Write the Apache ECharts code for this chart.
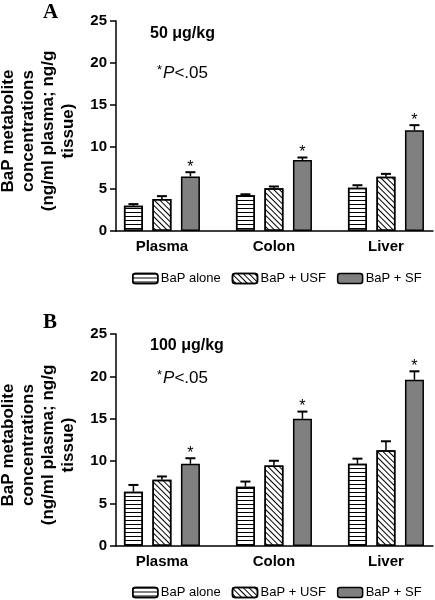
<!DOCTYPE html>
<html>
<head>
<meta charset="utf-8">
<script src="https://cdn.jsdelivr.net/npm/echarts@6/dist/echarts.min.js"></script>
<style>
html,body{margin:0;padding:0;background:#fff;}
#chart{width:435px;height:600px;}
</style>
</head>
<body>
<div id="chart"></div>
<script>
// ---- data ----
const categories = ['Plasma', 'Colon', 'Liver'];
const seriesNames = ['BaP alone', 'BaP + USF', 'BaP + SF'];
const yTicks = [0, 5, 10, 15, 20, 25];

// Panel A: 50 µg/kg
const aAlone = [3.0, 4.25, 5.15];
const aAloneErr = [0.2, 0.12, 0.3];
const aUSF = [3.8, 5.1, 6.45];
const aUSFErr = [0.35, 0.2, 0.35];
const aSF = [6.5, 8.45, 12.0];
const aSFErr = [0.5, 0.3, 0.6];

// Panel B: 100 µg/kg
const bAlone = [6.4, 7.0, 9.7];
const bAloneErr = [0.8, 0.6, 0.6];
const bUSF = [7.8, 9.5, 11.3];
const bUSFErr = [0.4, 0.55, 1.05];
const bSF = [9.7, 15.0, 19.6];
const bSFErr = [0.65, 0.85, 1.0];

// significance flags (star) per series
const significant = [false, false, true];

// ---- styling ----
const FONT = '"Liberation Sans", Arial, sans-serif';
const BAR_W = 19;
const BAR_GAP = 0.5;
const fills = ['#ffffff', '#ffffff', '#808080'];
const decals = [
  {color: '#000', symbol: 'rect', symbolSize: 1, dashArrayX: [1, 0], dashArrayY: [1, 3], rotation: 0},
  {color: '#000', symbol: 'rect', symbolSize: 1, dashArrayX: [1, 0], dashArrayY: [1, 3], rotation: Math.PI / 4},
  'none'
];

const chart = echarts.init(document.getElementById('chart'), null, {renderer: 'canvas'});

function barSeries(name, values, gi, si) {
  return {
    type: 'bar', name: name, xAxisIndex: gi, yAxisIndex: gi,
    barWidth: BAR_W, barGap: (BAR_GAP * 100) + '%',
    data: values.map((v, i) => [i + 1, v]),
    itemStyle: {
      color: fills[si], borderColor: '#000', borderWidth: 1.5,
      decal: decals[si] === 'none' ? null : decals[si]
    },
    z: 2
  };
}

function errSeries(gi, valuesList, errList) {
  const data = [];
  valuesList.forEach((vals, si) => {
    vals.forEach((v, i) => data.push([i + 1, v, errList[si][i], si, significant[si] ? 1 : 0]));
  });
  return {
    type: 'custom', name: 'err' + gi, xAxisIndex: gi, yAxisIndex: gi, z: 5,
    encode: {x: 0, y: 1},
    data: data,
    renderItem: function (params, api) {
      const x = api.value(0), v = api.value(1), e = api.value(2), s = api.value(3), sig = api.value(4);
      const base = api.coord([x, v]);
      const top = api.coord([x, v + e]);
      const cx = base[0] + (s - 1) * BAR_W * (1 + BAR_GAP);
      const children = [
        {type: 'line', shape: {x1: cx, y1: base[1], x2: cx, y2: top[1]}, style: {stroke: '#000', lineWidth: 1.5}},
        {type: 'line', shape: {x1: cx - 5, y1: top[1], x2: cx + 5, y2: top[1]}, style: {stroke: '#000', lineWidth: 2}}
      ];
      if (sig) {
        children.push({type: 'text', style: {text: '*', x: cx, y: top[1] - 5, align: 'center', verticalAlign: 'middle', font: '16px ' + FONT, fill: '#000'}});
      }
      return {type: 'group', children: children};
    }
  };
}

function xAxis(gi) {
  return {
    type: 'value', gridIndex: gi, min: 0.59, max: 3.42,
    axisLine: {show: true, lineStyle: {color: '#000', width: 1.5}},
    axisTick: {show: false},
    splitLine: {show: false},
    axisLabel: {
      customValues: [1, 2, 3],
      formatter: v => categories[Math.round(v) - 1] || '',
      color: '#000', fontFamily: FONT, fontWeight: 'bold', fontSize: 15, margin: 8
    }
  };
}

function yAxis(gi) {
  return {
    type: 'value', gridIndex: gi, min: yTicks[0], max: yTicks[yTicks.length - 1], interval: 5,
    axisLine: {show: true, lineStyle: {color: '#000', width: 1.5}},
    axisTick: {show: true, length: 6, lineStyle: {color: '#000', width: 1.5}},
    splitLine: {show: false},
    axisLabel: {color: '#000', fontFamily: FONT, fontWeight: 'bold', fontSize: 15, margin: 9},
    name: 'BaP metabolite\nconcentrations\n(ng/ml plasma; ng/g\ntissue)',
    nameLocation: 'middle', nameRotate: 90, nameGap: 38,
    nameTextStyle: {color: '#000', fontFamily: FONT, fontWeight: 'bold', fontSize: 17, lineHeight: 20, padding: [0, 10, 0, 0]}
  };
}

function legend(top) {
  return {
    left: 127, top: top, itemWidth: 25, itemHeight: 10, itemGap: 11,
    data: seriesNames, selectedMode: false,
    textStyle: {color: '#000', fontFamily: FONT, fontSize: 13, padding: [0, 0, 0, -2]},
    itemStyle: {borderColor: '#000', borderWidth: 1.5}
  };
}

function panelTexts(letterY, doseText, doseY, pY) {
  return [
    {type: 'text', left: 43, top: letterY, style: {text: letterY < 100 ? 'A' : 'B', font: 'bold 21px "Liberation Serif", "Times New Roman", serif', fill: '#000'}},
    {type: 'text', left: 150, top: doseY, style: {text: doseText, font: 'bold 16px ' + FONT, fill: '#000'}},
    {type: 'text', left: 157, top: pY, style: {
      text: '{s|*}{i|P}{n|<.05}', fill: '#000',
      rich: {
        s: {fontFamily: FONT, fontSize: 13, verticalAlign: 'top', padding: [0, 1, 6, 0]},
        i: {fontFamily: FONT, fontSize: 17, fontStyle: 'italic'},
        n: {fontFamily: FONT, fontSize: 17}
      }
    }}
  ];
}

const option = {
  animation: false,
  backgroundColor: '#fff',
  grid: [
    {left: 116, top: 21, width: 317, height: 210, containLabel: false, outerBoundsMode: 'none'},
    {left: 116, top: 334, width: 317, height: 212, containLabel: false, outerBoundsMode: 'none'}
  ],
  xAxis: [xAxis(0), xAxis(1)],
  yAxis: [yAxis(0), yAxis(1)],
  legend: [legend(267), legend(581)],
  graphic: [].concat(
    panelTexts(2, '50 \u03bcg/kg', 26, 64),
    panelTexts(312, '100 \u03bcg/kg', 338, 369)
  ),
  series: [
    barSeries(seriesNames[0], aAlone, 0, 0),
    barSeries(seriesNames[1], aUSF, 0, 1),
    barSeries(seriesNames[2], aSF, 0, 2),
    errSeries(0, [aAlone, aUSF, aSF], [aAloneErr, aUSFErr, aSFErr]),
    barSeries(seriesNames[0], bAlone, 1, 0),
    barSeries(seriesNames[1], bUSF, 1, 1),
    barSeries(seriesNames[2], bSF, 1, 2),
    errSeries(1, [bAlone, bUSF, bSF], [bAloneErr, bUSFErr, bSFErr])
  ]
};
chart.setOption(option);
</script>
</body>
</html>
